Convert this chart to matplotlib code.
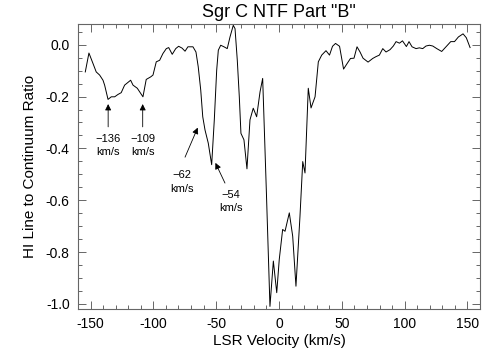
import numpy as np
import matplotlib
matplotlib.use('Agg')
import matplotlib.pyplot as plt
from matplotlib.ticker import MultipleLocator

plt.rcParams['font.family'] = ['Liberation Sans', 'DejaVu Sans']
plt.rcParams['axes.unicode_minus'] = False

# HI absorption spectrum
velocity = [-154.2, -151.3, -148.1, -145.5, -142.8, -140.1, -138.8, -136.1, -133.5, -130.8,
            -128.2, -125.6, -122.9, -118.1, -116.2, -112.8, -108.3, -105.7, -102.1, -100.3,
            -97.7, -95.0, -92.4, -89.7, -87.8, -85.0, -82.2, -79.9, -77.2, -74.8,
            -72.5, -68.5, -66.1, -64.3, -62.3, -60.7, -58.9, -56.3, -53.6, -51.5,
            -49.6, -48.3, -46.4, -43.8, -41.2, -39.0, -36.4, -35.0, -33.2, -31.6,
            -30.3, -27.9, -25.5, -23.1, -20.5, -17.8, -15.1, -13.0, -10.1, -7.2,
            -4.5, -1.8, 0.2, 2.9, 4.8, 8.2, 10.9, 13.5, 16.7, 18.9,
            20.7, 23.3, 25.5, 28.7, 31.3, 34.0, 37.4, 40.2, 42.6, 45.0,
            48.2, 51.4, 53.9, 56.9, 59.7, 62.1, 64.5, 66.9, 70.9, 74.6,
            77.2, 79.9, 82.6, 85.2, 88.4, 91.0, 93.2, 95.9, 98.3, 101.4,
            103.5, 105.9, 109.1, 111.7, 114.4, 117.0, 119.7, 122.4, 125.6, 129.5,
            133.5, 136.7, 139.7, 142.8, 146.5, 149.1, 152.1]
ratio = [-0.105, -0.032, -0.072, -0.105, -0.117, -0.137, -0.156, -0.211, -0.201, -0.201,
         -0.192, -0.185, -0.156, -0.137, -0.156, -0.168, -0.201, -0.134, -0.124, -0.117,
         -0.066, -0.060, -0.034, -0.015, -0.011, -0.037, -0.015, -0.006, -0.013, -0.025,
         -0.008, -0.008, -0.028, -0.085, -0.175, -0.278, -0.329, -0.380, -0.463, -0.290,
         -0.098, -0.021, -0.002, -0.008, -0.015, 0.030, 0.075, 0.062, -0.060, -0.201,
         -0.342, -0.367, -0.479, -0.290, -0.245, -0.278, -0.182, -0.130, -0.560, -1.010,
         -0.835, -0.957, -0.829, -0.713, -0.720, -0.649, -0.739, -0.932, -0.662, -0.451,
         -0.495, -0.168, -0.244, -0.201, -0.066, -0.040, -0.023, -0.040, -0.006, 0.005,
         -0.006, -0.094, -0.075, -0.053, -0.052, -0.008, -0.028, -0.052, -0.067, -0.053,
         -0.046, -0.040, -0.015, -0.028, -0.019, -0.005, 0.012, 0.006, 0.015, -0.007,
         0.012, -0.008, -0.015, -0.012, -0.015, -0.005, -0.002, -0.005, -0.015, -0.026,
         -0.005, 0.012, 0.012, 0.030, 0.042, 0.027, -0.011]

# labelled absorption features: (label, arrow tip, arrow tail, text centre)
feature_labels = ['\u2212136\nkm/s', '\u2212109\nkm/s', '\u221262\nkm/s', '\u221254\nkm/s']
arrow_tips = [(-136.0, -0.229), (-108.5, -0.229), (-64.7, -0.320), (-50.6, -0.456)]
arrow_tails = [(-136.0, -0.317), (-108.5, -0.317), (-74.8, -0.434), (-43.0, -0.534)]
text_pos = [(-136.0, -0.388), (-108.5, -0.388), (-77.5, -0.530), (-38.0, -0.604)]

fig = plt.figure(figsize=(5.04, 3.6), dpi=100)
ax = fig.add_axes([78/504, 1 - 309/360, 402/504, 285/360])

ax.plot(velocity, ratio, color='black', lw=0.7)

for lab, tip, tail, tp in zip(feature_labels, arrow_tips, arrow_tails, text_pos):
    ax.annotate('', xy=tip, xytext=tail,
                arrowprops=dict(arrowstyle='-|>', color='black', lw=0.6,
                                mutation_scale=9, shrinkA=0, shrinkB=0))
    ax.text(tp[0], tp[1], lab, ha='center', va='center', fontsize=8,
            linespacing=1.4)

ax.set_xlim(-160, 160)
ax.set_ylim(-1.02, 0.08)
ax.xaxis.set_major_locator(MultipleLocator(50))
ax.xaxis.set_minor_locator(MultipleLocator(10))
ax.yaxis.set_major_locator(MultipleLocator(0.2))
ax.yaxis.set_minor_locator(MultipleLocator(0.05))
ax.yaxis.set_major_formatter(plt.FormatStrFormatter('%.1f'))

ax.tick_params(which='both', direction='in', top=True, right=True,
               color='0.4', width=0.7, labelsize=10)
ax.tick_params(which='major', length=6, pad=6)
ax.tick_params(which='minor', length=3)
for sp in ax.spines.values():
    sp.set_color('0.4')
    sp.set_linewidth(0.8)

ax.set_xlabel('LSR Velocity (km/s)', fontsize=11, labelpad=2)
ax.set_ylabel('HI Line to Continuum Ratio', fontsize=11, labelpad=6)
ax.set_title('Sgr C NTF Part "B"', fontsize=13, pad=5)

fig.savefig('out.png', dpi=100)
